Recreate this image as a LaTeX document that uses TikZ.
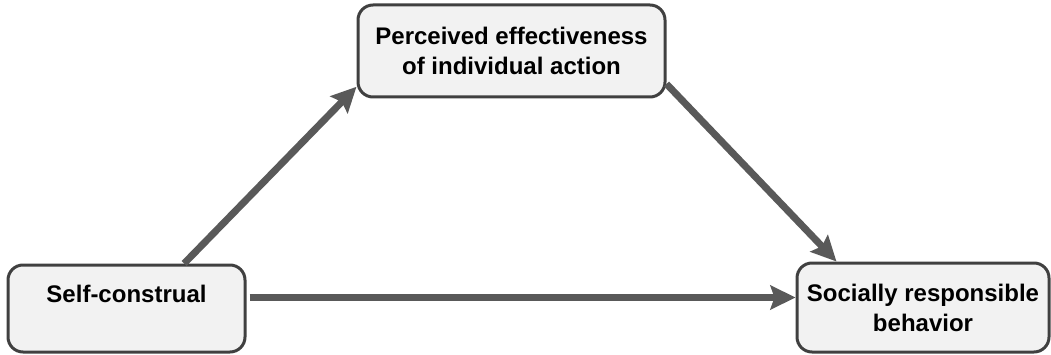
\documentclass[tikz,border=0pt]{standalone}
\usepackage{fontspec}
\setmainfont{Liberation Sans}
\usepackage{tikz}
\usetikzlibrary{
  arrows.meta,
  positioning,
  calc
}
\definecolor{srFill}{HTML}{F2F2F2}
\definecolor{srEdge}{HTML}{404040}
\definecolor{srArrow}{HTML}{595959}
\tikzset{
  varbox/.style={
    draw=srEdge, fill=srFill, line width=3pt, rounded corners=15pt,
    inner sep=0pt, align=center, font=\fontsize{24}{30}\selectfont\bfseries
  },
  link/.style={-{Stealth[length=25pt, width=24pt, inset=4pt]}, line width=7pt, srArrow}
}

\begin{document}
\begin{tikzpicture}[x=1pt, y=-1pt]
  \useasboundingbox (0,0) rectangle (1051,355);
  % variables
  \node[varbox, minimum width=307pt, minimum height=92pt] (eff) at (511.5,51) {Perceived effectiveness\\of individual action};
  \node[varbox, minimum width=237pt, minimum height=87pt] (self) at (126.5,308.5) {Self-construal\\\mbox{}};
  \node[varbox, minimum width=252pt, minimum height=89pt] (soc) at (923,307.5) {Socially responsible\\behavior};
  % paths
  \draw[link] (self.38) -- (eff.193.7);
  \draw[link] (eff.-12) -- (soc.152.4);
  \draw[link, shorten <=3pt] ([yshift=11pt]self.east) -- ([yshift=11pt]self.east -| soc.west);
\end{tikzpicture}
\end{document}
